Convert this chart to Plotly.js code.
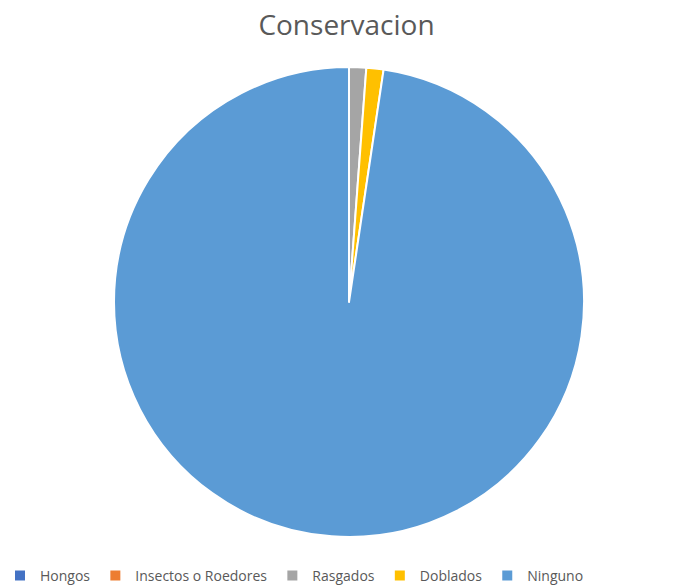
<!DOCTYPE html>
<html><head><meta charset="utf-8">
<script src="https://cdn.plot.ly/plotly-3.0.1.min.js"></script>
<style>html,body{margin:0;padding:0;background:#fff}#chart{width:693px;height:587px}</style>
</head><body><div id="chart"></div>
<script>
const categories = ["Hongos", "Insectos o Roedores", "Rasgados", "Doblados", "Ninguno"];
const values = [0, 0, 1, 1, 83];
const colors = ["#4472C4", "#ED7D31", "#A5A5A5", "#FFC000", "#5B9BD5"];

Plotly.newPlot("chart", [{
  type: "pie",
  labels: categories,
  values: values,
  sort: false,
  direction: "clockwise",
  rotation: 0,
  textinfo: "none",
  hoverinfo: "label+value+percent",
  marker: {colors: colors, line: {color: "#ffffff", width: 2}}
}], {
  width: 693, height: 587,
  margin: {l: 5, r: 0, t: 67, b: 50, pad: 0},
  paper_bgcolor: "#ffffff",
  title: {text: "Conservacion", font: {family: "Open Sans, sans-serif", size: 28, color: "#595959"}, x: 0.5, xanchor: "center", y: 0.957, yanchor: "middle"},
  showlegend: true,
  legend: {orientation: "h", xref: "container", yref: "container", x: 0, xanchor: "left", y: 0.046, yanchor: "top",
    font: {family: "Open Sans, sans-serif", size: 14, color: "#595959"}, itemwidth: 30, tracegroupgap: 0}
}, {displayModeBar: false});
</script></body></html>
